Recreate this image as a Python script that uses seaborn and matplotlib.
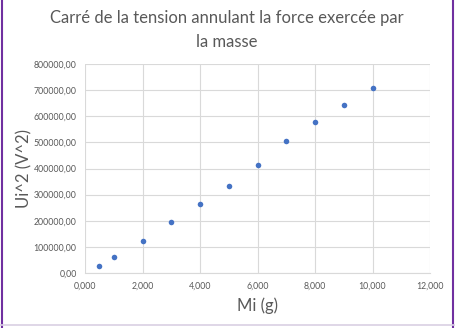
import matplotlib
matplotlib.use("Agg")
import matplotlib.pyplot as plt
import seaborn as sns
import pandas as pd
from matplotlib.lines import Line2D

# Data
mass_g = [0.5, 1.0, 2.0, 3.0, 4.0, 5.0, 6.0, 7.0, 8.0, 9.0, 10.0]
u_squared = [28000, 62700, 124000, 193500, 262700, 332000, 412700, 505000, 578000, 643500, 707700]
x_ticks = [0, 2, 4, 6, 8, 10, 12]
x_tick_labels = ["0,000", "2,000", "4,000", "6,000", "8,000", "10,000", "12,000"]
y_ticks = [0, 100000, 200000, 300000, 400000, 500000, 600000, 700000, 800000]
y_tick_labels = ["0,00", "100000,00", "200000,00", "300000,00", "400000,00",
                 "500000,00", "600000,00", "700000,00", "800000,00"]
title = "Carré de la tension annulant la force exercée par\nla masse"
x_label = "Mi (g)"
y_label = "Ui^2 (V^2)"

df = pd.DataFrame({"m": mass_g, "u2": u_squared})

sns.set_style("white")
plt.rcParams["font.family"] = ["Lato", "DejaVu Sans"]

fig = plt.figure(figsize=(4.55, 3.28), dpi=100)
ax = fig.add_axes([85 / 455, 1 - 273 / 328, (430 - 85) / 455, (273 - 64) / 328])

sns.scatterplot(data=df, x="m", y="u2", ax=ax, color="#4472C4", s=16,
                edgecolor="#4472C4", linewidth=0, zorder=3)

ax.set_xlim(0, 12)
ax.set_ylim(0, 800000)
ax.set_xticks(x_ticks)
ax.set_xticklabels(x_tick_labels)
ax.set_yticks(y_ticks)
ax.set_yticklabels(y_tick_labels)
ax.grid(True, color="#D9D9D9", linewidth=0.8)
ax.set_axisbelow(True)
for s in ["top", "right", "left"]:
    ax.spines[s].set_visible(False)
ax.spines["bottom"].set_color("#D9D9D9")
ax.spines["bottom"].set_linewidth(0.8)
ax.tick_params(axis="both", length=0, labelsize=6.3, colors="#595959", pad=6)

ax.set_xlabel(x_label, fontsize=12, color="#595959", labelpad=5)
ax.set_ylabel(y_label, fontsize=12, color="#595959", labelpad=1)

fig.text(227 / 455, 1 - 30 / 328, title, ha="center", va="center",
         fontsize=12, color="#595959", linespacing=1.55)

# frame
fig.add_artist(Line2D([0.004, 0.004], [0, 1], transform=fig.transFigure, color="#7030A0", linewidth=1.5))
fig.add_artist(Line2D([0.996, 0.996], [0, 1], transform=fig.transFigure, color="#7030A0", linewidth=1.5))
fig.add_artist(Line2D([0, 1], [0.008, 0.008], transform=fig.transFigure, color="#D9D0E3", linewidth=1.2))

fig.savefig("out.png", dpi=100)
